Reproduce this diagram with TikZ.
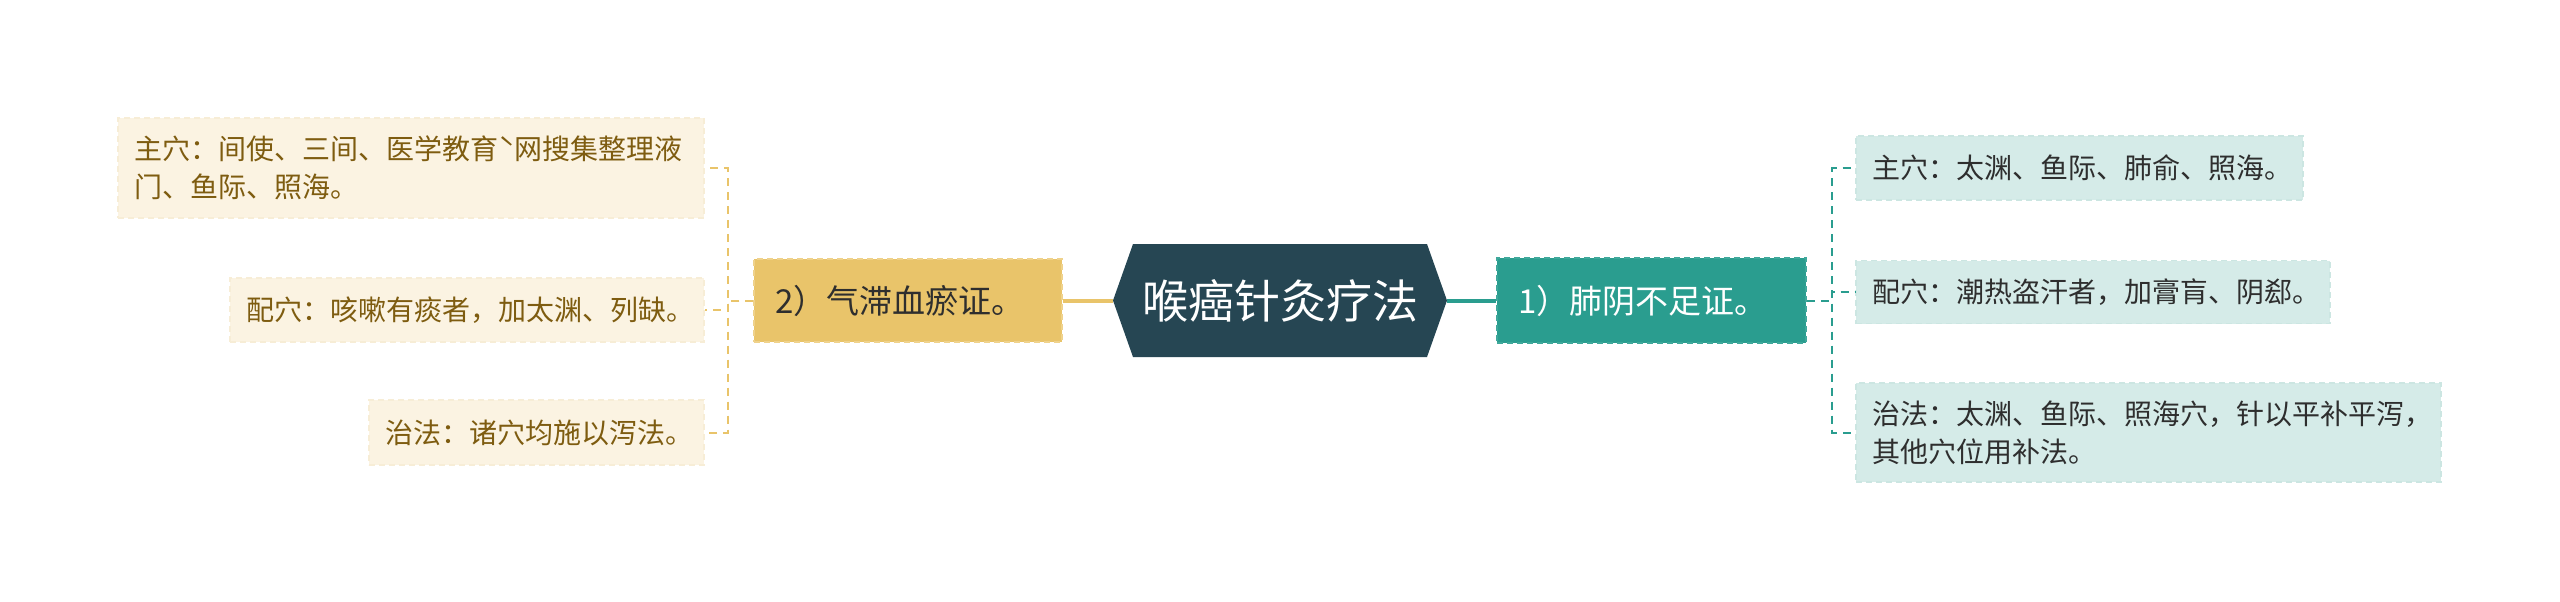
\documentclass[tikz,border=0pt]{standalone}
\usepackage{fontspec}
\setmainfont{Noto Sans CJK SC}
\definecolor{rootc}{HTML}{264653}
\definecolor{grn}{HTML}{2A9D8F}
\definecolor{grnbd}{HTML}{3FA89B}
\definecolor{ylw}{HTML}{E9C46A}
\definecolor{ylwbd}{HTML}{EFD28C}
\definecolor{lyb}{HTML}{FBF3E2}
\definecolor{lybd}{HTML}{F7EDD6}
\definecolor{lytx}{HTML}{7E5C10}
\definecolor{lgb}{HTML}{D5EBE8}
\definecolor{lgbd}{HTML}{CCE6E2}
\definecolor{dtx}{HTML}{2E2E2E}
\begin{document}
\begin{tikzpicture}[x=1pt,y=-1pt,
  rootnode/.style={minimum width=334pt,minimum height=113pt,inner sep=0pt,text=white,
    font=\fontsize{46}{55}\selectfont,
    path picture={\fill[rootc] (path picture bounding box.west)
      -- ([xshift=20pt]path picture bounding box.north west)
      -- ([xshift=-20pt]path picture bounding box.north east)
      -- (path picture bounding box.east)
      -- ([xshift=-20pt]path picture bounding box.south east)
      -- ([xshift=20pt]path picture bounding box.south west) -- cycle;}},
  branchbox/.style={rectangle,inner xsep=21pt,inner ysep=0pt,anchor=center,
    font=\fontsize{33}{40}\selectfont,align=left,line width=2pt,dash pattern=on 6pt off 4pt},
  leafbox/.style={rectangle,inner xsep=16pt,inner ysep=0pt,anchor=center,
    font=\fontsize{28}{38}\selectfont,align=left,line width=1.5pt,dash pattern=on 6pt off 4pt},
  yleaf/.style={leafbox,fill=lyb,draw=lybd,text=lytx},
  gleaf/.style={leafbox,fill=lgb,draw=lgbd,text=dtx},
  ylink/.style={draw=ylw,line width=2pt,dash pattern=on 8pt off 6pt},
  glink/.style={draw=grn,line width=2pt,dash pattern=on 8pt off 6pt},
]
\useasboundingbox (0,0) rectangle (2560,602);
\fill[white] (0,0) rectangle (2560,602);

\node[rootnode] (root) at (1280,300.5) {喉癌针灸疗法};

\node[branchbox,fill=ylw,draw=ylwbd,text=dtx,minimum width=308pt,minimum height=83pt,text width=266pt] (yb) at (908,300.5) {2）气滞血瘀证。};
\node[branchbox,fill=grn,draw=grnbd,text=white,minimum width=309pt,minimum height=85pt,text width=267pt] (gb) at (1651.5,300.5) {1）肺阴不足证。};

\node[yleaf,minimum width=586pt,minimum height=100pt,text width=554pt] (l1) at (411,168) {主穴：间使、三间、医学教育ˋ网搜集整理液\\门、鱼际、照海。};
\node[yleaf,minimum width=474pt,minimum height=64pt,text width=442pt] (l2) at (467,310) {配穴：咳嗽有痰者，加太渊、列缺。};
\node[yleaf,minimum width=335pt,minimum height=65pt,text width=303pt] (l3) at (536.5,432.5) {治法：诸穴均施以泻法。};

\node[gleaf,minimum width=447pt,minimum height=64pt,text width=415pt] (r1) at (2079.5,168) {主穴：太渊、鱼际、肺俞、照海。};
\node[gleaf,minimum width=474pt,minimum height=63pt,text width=442pt] (r2) at (2093,292) {配穴：潮热盗汗者，加膏肓、阴郄。};
\node[gleaf,minimum width=585pt,minimum height=99pt,text width=553pt] (r3) at (2148.5,432.5) {治法：太渊、鱼际、照海穴，针以平补平泻，\\其他穴位用补法。};

\draw[ylw,line width=4pt] (root.west) -- (yb.east);
\draw[grn,line width=4pt] (root.east) -- (gb.west);

\draw[ylink] (yb.west) -- ++(-25,0) |- (l1.east);
\draw[ylink] (yb.west) -- ++(-25,0) |- (l2.east);
\draw[ylink] (yb.west) -- ++(-25,0) |- (l3.east);

\draw[glink] (gb.east) -- ++(25,0) |- (r1.west);
\draw[glink] (gb.east) -- ++(25,0) |- (r2.west);
\draw[glink] (gb.east) -- ++(25,0) |- (r3.west);
\end{tikzpicture}
\end{document}
